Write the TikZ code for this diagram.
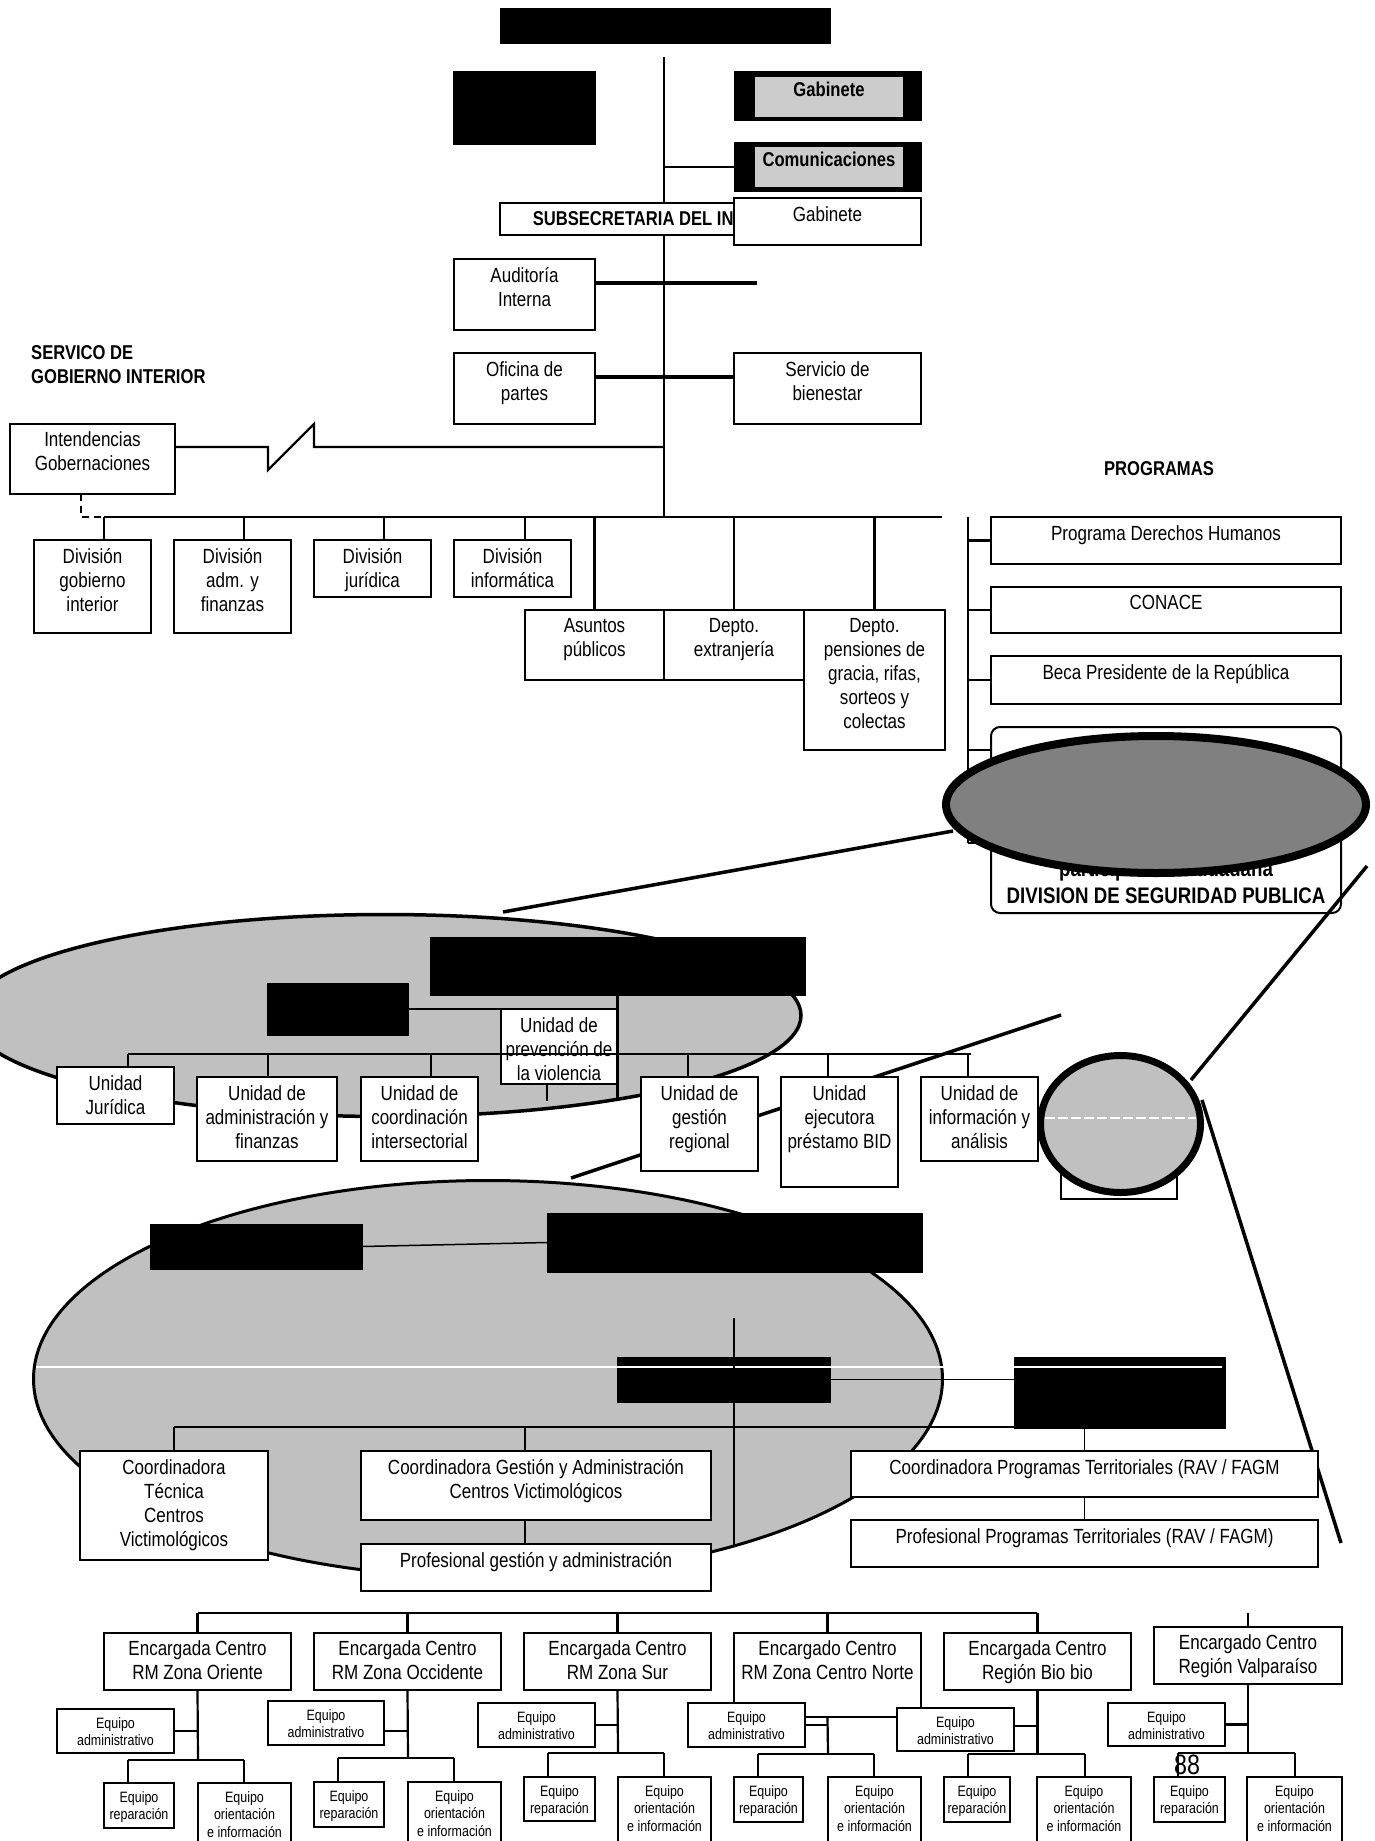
\documentclass[tikz,border=0pt]{standalone}
\usepackage{fontspec}
\setmainfont{Liberation Sans}[FakeStretch=0.83]
\usetikzlibrary{shapes.geometric}
\definecolor{lgray}{HTML}{C0C0C0}
\definecolor{mgray}{HTML}{808080}
\definecolor{pgray}{HTML}{CCCCCC}
\newcommand\fM{\fontsize{20.5}{24}\selectfont}
\newcommand\fS{\fontsize{15}{17.5}\selectfont}
\newcommand\fB{\fontsize{20}{24}\selectfont\bfseries}
\newcommand\fL{\fontsize{22.5}{26}\selectfont\bfseries}
% box with its text hung from the top edge
\newcommand{\orgbox}[8]{%
  \node[#1, anchor=north west, minimum width={(#5-#3)*1pt}, minimum height={(#6-#4)*1pt}] (#7) at (#3,#4) {};
  \node[#2] (#7-t) at (#7.north) {#8};}
% solid black block
\newcommand{\blkbox}[5]{%
  \node[blk, anchor=north west, minimum width={(#3-#1)*1pt}, minimum height={(#4-#2)*1pt}] (#5) at (#1,#2) {};}
\tikzset{
  bx/.style={rectangle, draw=black, line width=2pt, fill=white, inner sep=0pt, outer sep=0pt},
  blk/.style={rectangle, draw=black, fill=black, line width=1pt, inner sep=0pt, outer sep=0pt},
  ln/.style={line width=2.2pt},
  thk/.style={line width=3.2pt},
  thinln/.style={line width=1.5pt},
  zoomln/.style={line width=3.5pt},
  tm/.style={font=\fM, align=center, inner sep=0pt, anchor=north, yshift=-8pt},
  tenc/.style={font=\fM, align=center, inner sep=0pt, anchor=north, yshift=-7pt},
  ts/.style={font=\fS, align=center, inner sep=0pt, anchor=north, yshift=-8pt},
  tbc/.style={font=\fB, inner sep=0pt, anchor=center, yshift=-16pt},
  tbt/.style={font=\fB, inner sep=0pt, anchor=north, yshift=-6pt},
  oval/.style={ellipse, draw=black, inner sep=0pt, outer sep=0pt},
}
\begin{document}
\begin{tikzpicture}[x=1pt,y=-1pt]
\useasboundingbox (0,0) rectangle (1375,1841);
\fill[white] (0,0) rectangle (1375,1841);

%% ---------------- Ministry level ----------------
\coordinate (mainTop) at (664,57);
\coordinate (mainBot) at (664,517);
\draw[ln] (mainTop) -- (mainBot);

\blkbox{500}{9}{830}{44}{ministro}
\blkbox{453}{72}{595}{144}{asesores}

\blkbox{734}{72}{921}{121}{gabOut}
\node[rectangle, draw=black, line width=1pt, fill=pgray, anchor=north west, minimum width=149pt, minimum height=41pt, inner sep=0pt] (gabIn) at (754,76) {};
\node[tbt] (gabIn-t) at (gabIn.north) {Gabinete};

\blkbox{734}{143}{921}{191}{comOut}
\node[rectangle, draw=black, line width=1pt, fill=pgray, anchor=north west, minimum width=149pt, minimum height=41pt, inner sep=0pt] (comIn) at (754,146) {};
\node[tbt] (comIn-t) at (comIn.north) {Comunicaciones};
\draw[ln] (comOut.west) -- (comOut.west -| mainTop);

\orgbox{bx}{tbc}{500}{203}{829}{235}{subse}{SUBSECRETARIA DEL INTERIOR}
\orgbox{bx}{tm}{734}{198}{921}{245}{gabSub}{Gabinete}

\orgbox{bx}{tm}{454}{259}{595}{330}{audit}{Auditoría\\Interna}
\coordinate (auditEnd) at (757,283);
\draw[thk] (audit.east |- auditEnd) -- (auditEnd);

\node[font=\fB, align=left, inner sep=0pt, anchor=north west] (svcGob) at (31,345) {SERVICO DE\\GOBIERNO INTERIOR};

\orgbox{bx}{tm}{454}{353}{595}{424}{oficina}{Oficina de\\partes}
\orgbox{bx}{tm}{734}{353}{921}{424}{bienestar}{Servicio de\\bienestar}
\coordinate (ofY) at (664,377);
\draw[thk] (oficina.east |- ofY) -- (bienestar.west |- ofY);

\orgbox{bx}{tenc}{10}{424}{175}{494}{intend}{Intendencias\\Gobernaciones}
\coordinate (zz1) at (268,447);
\coordinate (zz2) at (268,470);
\coordinate (zz3) at (314,424);
\coordinate (zz4) at (314,447);
\draw[ln] (intend.east |- zz1) -- (zz1) -- (zz2) -- (zz3) -- (zz4) -- (zz4 -| mainTop);

%% ---------------- Divisions ----------------
\coordinate (barL) at (104,517);
\coordinate (barR) at (942,517);
\coordinate (dashTop) at (81,494);
\draw[ln, dash pattern=on 7pt off 5pt] (dashTop) -- (dashTop |- barL) -- (barL);
\draw[ln] (barL) -- (barR);

\coordinate (tk1) at (104,517);
\coordinate (tk2) at (244,517);
\coordinate (tk3) at (384,517);
\coordinate (tk4) at (525,517);
\orgbox{bx}{tm}{34}{540}{151}{633}{divGob}{División\\gobierno\\interior}
\orgbox{bx}{tm}{174}{540}{291}{633}{divAdm}{División\\adm. y\\finanzas}
\orgbox{bx}{tm}{314}{540}{431}{597}{divJur}{División\\jurídica}
\orgbox{bx}{tm}{454}{540}{571}{597}{divInf}{División\\informática}
\draw[ln] (tk1) -- (tk1 |- divGob.north);
\draw[ln] (tk2) -- (tk2 |- divAdm.north);
\draw[ln] (tk3) -- (tk3 |- divJur.north);
\draw[ln] (tk4) -- (tk4 |- divInf.north);

\orgbox{bx}{tm}{525}{610}{664}{680}{asuntos}{Asuntos\\públicos}
\orgbox{bx}{tm}{664}{610}{804}{680}{extranj}{Depto.\\extranjería}
\orgbox{bx}{tm}{804}{610}{945}{750}{pension}{Depto.\\pensiones de\\gracia, rifas,\\sorteos y\\colectas}
\draw[ln] (asuntos.north) -- (asuntos.north |- barL);
\draw[ln] (extranj.north) -- (extranj.north |- barL);
\draw[ln] (pension.north) -- (pension.north |- barL);

%% ---------------- Programas ----------------
\node[font=\fB, inner sep=0pt] (programas) at (1159,469) {PROGRAMAS};
\coordinate (pTop) at (968,517);
\coordinate (pBot) at (968,843);
\draw[ln] (pTop) -- (pBot);
\orgbox{bx}{tm}{991}{517}{1341}{564}{pDH}{Programa Derechos Humanos}
\orgbox{bx}{tm}{991}{587}{1341}{633}{pCon}{CONACE}
\orgbox{bx}{tm}{991}{656}{1341}{704}{pBeca}{Beca Presidente de la República}
\node[bx, rounded corners=9pt, anchor=north west, minimum width=350pt, minimum height=186pt] (pSeg) at (991,727) {};
\node[font=\fL, anchor=base, inner sep=0pt] (pSeg-a) at (1166,876) {participación ciudadana};
\node[font=\fL, anchor=base, inner sep=0pt] (pSeg-b) at (1166,903) {DIVISION DE SEGURIDAD PUBLICA};
\coordinate (pk4) at (968,750);
\draw[ln] (pDH.west) -- (pDH.west -| pTop);
\draw[ln] (pCon.west) -- (pCon.west -| pTop);
\draw[ln] (pBeca.west) -- (pBeca.west -| pTop);
\draw[ln] (pk4) -- (pk4 -| pSeg.west);
\draw[ln] (pBot) -- (pBot -| pSeg.west);

% magnifier lines and the highlight over the security division
\coordinate (zA1) at (953,831);
\coordinate (zA2) at (503,912);
\coordinate (zB1) at (1367,866);
\coordinate (zB2) at (1191,1080);
\draw[zoomln] (zA1) -- (zA2);
\draw[zoomln] (zB1) -- (zB2);
\node[oval, line width=8pt, fill=mgray, minimum width=420pt, minimum height=137pt] (segHi) at (1156,804.5) {};

%% ---------------- Division de Seguridad Publica ----------------
\node[oval, line width=3.5pt, fill=lgray, minimum width=832pt, minimum height=202pt] (segOval) at (385,1015.5) {};

\coordinate (zC1) at (1061,1015);
\coordinate (zC2) at (571,1178);
\draw[zoomln] (zC1) -- (zC2);

\blkbox{430}{937}{805}{995}{jefeDiv}
\blkbox{267}{983}{408}{1035}{asesorDiv}
\coordinate (vDivBot) at (617.5,1100);
\draw[ln] (jefeDiv.south) -- (vDivBot);
\draw[ln] (asesorDiv.east) -- (asesorDiv.east -| vDivBot);
\orgbox{bx}{tm}{501}{1009}{617}{1084}{uPrev}{Unidad de\\prevención de\\la violencia}
\coordinate (prevTk) at (547,1101);
\draw[ln] (prevTk |- uPrev.south) -- (prevTk);

\coordinate (ubL) at (128,1054);
\coordinate (ubR) at (971,1054);
\draw[ln] (ubL) -- (ubR);
\orgbox{bx}{tm}{57}{1067}{174}{1124}{uJur}{Unidad\\Jurídica}
\orgbox{bx}{tm}{197}{1077}{337}{1161}{uAdm}{Unidad de\\administración y\\finanzas}
\orgbox{bx}{tm}{361}{1077}{478}{1161}{uCoo}{Unidad de\\coordinación\\intersectorial}
\orgbox{bx}{tm}{641}{1077}{758}{1171}{uGes}{Unidad de\\gestión\\regional}
\orgbox{bx}{tm}{781}{1077}{898}{1187}{uBid}{Unidad\\ejecutora\\préstamo BID}
\orgbox{bx}{tm}{921}{1077}{1038}{1161}{uInf}{Unidad de\\información y\\análisis}
\coordinate (uk1) at (128,1054);
\coordinate (uk2) at (268,1054);
\coordinate (uk3) at (431,1054);
\coordinate (uk4) at (688,1054);
\coordinate (uk5) at (828,1054);
\coordinate (uk6) at (968,1054);
\draw[ln] (uk1) -- (uk1 |- uJur.north);
\draw[ln] (uk2) -- (uk2 |- uAdm.north);
\draw[ln] (uk3) -- (uk3 |- uCoo.north);
\draw[ln] (uk4) -- (uk4 |- uGes.north);
\draw[ln] (uk5) -- (uk5 |- uBid.north);
\draw[ln] (uk6) -- (uk6 |- uInf.north);

% highlighted unit
\orgbox{bx}{tm}{1061}{1077}{1177}{1199}{uHid}{}
\coordinate (zD1) at (1202,1100);
\coordinate (zD2) at (1341,1543);
\draw[zoomln] (zD1) -- (zD2);
\node[oval, line width=7pt, fill=lgray, minimum width=160pt, minimum height=137pt] (unitHi) at (1120.5,1124) {};
\draw[white, line width=1.2pt, dash pattern=on 10pt off 3pt] (1045,1118) -- (1196,1118);

%% ---------------- Unidad de gestion regional ----------------
\node[oval, line width=3pt, fill=lgray, minimum width=909pt, minimum height=397pt] (gesOval) at (488,1379) {};

\blkbox{150}{1224}{362}{1269}{gesA}
\blkbox{547}{1213}{922}{1272}{gesB}
\draw[thinln] (gesA.east) -- (gesB.west);
\coordinate (gvTop) at (734,1318);
\coordinate (gvBot) at (734,1545);
\blkbox{617}{1357}{830}{1402}{gesC}
\blkbox{1014}{1357}{1225}{1428}{gesD}
\draw[thinln] (gesC.east) -- (gesC.east -| gesD.west);
\draw[white, line width=1.2pt] (36,1367) -- (1222,1367);
\draw[thinln] (gvTop) -- (gvBot);

\coordinate (gbL) at (174,1427);
\coordinate (gbR) at (1014,1427);
\draw[thinln] (gbL) -- (gbR);
\orgbox{bx}{tm}{80}{1451}{268}{1560}{coTec}{Coordinadora\\Técnica\\Centros\\Victimológicos}
\orgbox{bx}{tm}{361}{1451}{711}{1520}{coGes}{Coordinadora Gestión y Administración\\Centros Victimológicos}
\orgbox{bx}{tm}{361}{1544}{711}{1591}{prGes}{Profesional gestión y administración}
\coordinate (gk2) at (525,1427);
\draw[thinln] (gbL) -- (coTec.north);
\draw[thinln] (gk2) -- (gk2 |- coGes.north);
\draw[thinln] (gk2 |- coGes.south) -- (gk2 |- prGes.north);

\orgbox{bx}{tm}{851}{1451}{1318}{1497}{coPro}{Coordinadora Programas Territoriales (RAV / FAGM}
\orgbox{bx}{tm}{851}{1520}{1318}{1567}{prPro}{Profesional Programas Territoriales (RAV / FAGM)}
\draw[thinln] (coPro.north) -- (coPro.north |- gesD.south);
\draw[thinln] (coPro.south) -- (prPro.north);

%% ---------------- Centros ----------------
\coordinate (cbL) at (198,1613);
\coordinate (cbR) at (1037,1613);
\draw[ln] (cbL) -- (cbR);

% RM Zona Oriente
\orgbox{bx}{tenc}{104}{1633}{291}{1690}{enc1}{Encargada Centro\\RM Zona Oriente}
\coordinate (j1) at (198,1760);
\draw[ln] (enc1.north) -- (enc1.north |- cbL);
\draw[ln] (enc1.south) -- (j1);
\orgbox{bx}{ts}{57}{1709}{174}{1753}{adm1}{Equipo\\administrativo}
\draw[ln] (adm1.east) -- (adm1.east -| j1);
\coordinate (s1a) at (128,1760);
\coordinate (s1b) at (244,1760);
\draw[ln] (s1a) -- (s1b);
\orgbox{bx}{ts}{104}{1783}{174}{1828}{rep1}{Equipo\\reparación}
\orgbox{bx}{ts}{198}{1783}{291}{1860}{ori1}{Equipo\\orientación\\e información}
\draw[ln] (s1a) -- (s1a |- rep1.north);
\draw[ln] (s1b) -- (s1b |- ori1.north);

% RM Zona Occidente
\orgbox{bx}{tenc}{314}{1633}{501}{1690}{enc2}{Encargada Centro\\RM Zona Occidente}
\coordinate (j2) at (408,1758);
\coordinate (c2) at (408,1731);
\draw[ln] (enc2.north) -- (enc2.north |- cbL);
\draw[ln] (enc2.south) -- (j2);
\orgbox{bx}{ts}{268}{1701}{384}{1745}{adm2}{Equipo\\administrativo}
\draw[ln] (adm2.east |- c2) -- (c2);
\coordinate (s2a) at (338,1758);
\coordinate (s2b) at (454,1758);
\draw[ln] (s2a) -- (s2b);
\orgbox{bx}{ts}{314}{1782}{384}{1827}{rep2}{Equipo\\reparación}
\orgbox{bx}{ts}{408}{1782}{501}{1860}{ori2}{Equipo\\orientación\\e información}
\draw[ln] (s2a) -- (s2a |- rep2.north);
\draw[ln] (s2b) -- (s2b |- ori2.north);

% RM Zona Sur
\orgbox{bx}{tenc}{524}{1633}{711}{1690}{enc3}{Encargada Centro\\RM Zona Sur}
\coordinate (j3) at (618,1753);
\draw[ln] (enc3.north) -- (enc3.north |- cbL);
\draw[ln] (enc3.south) -- (j3);
\orgbox{bx}{ts}{478}{1703}{595}{1747}{adm3}{Equipo\\administrativo}
\draw[ln] (adm3.east) -- (adm3.east -| j3);
\coordinate (s3a) at (548,1753);
\coordinate (s3b) at (664,1753);
\draw[ln] (s3a) -- (s3b);
\orgbox{bx}{ts}{524}{1777}{595}{1821}{rep3}{Equipo\\reparación}
\orgbox{bx}{ts}{618}{1777}{711}{1860}{ori3}{Equipo\\orientación\\e información}
\draw[ln] (s3a) -- (s3a |- rep3.north);
\draw[ln] (s3b) -- (s3b |- ori3.north);

% RM Zona Centro Norte
\orgbox{bx}{tenc}{734}{1633}{921}{1717}{enc4}{Encargado Centro\\RM Zona Centro Norte}
\coordinate (j4) at (828,1754);
\draw[ln] (enc4.north) -- (enc4.north |- cbL);
\draw[ln] (enc4.south) -- (j4);
\orgbox{bx}{ts}{688}{1703}{805}{1747}{adm4}{Equipo\\administrativo}
\draw[ln] (adm4.east) -- (adm4.east -| j4);
\coordinate (s4a) at (758,1754);
\coordinate (s4b) at (874,1754);
\draw[ln] (s4a) -- (s4b);
\orgbox{bx}{ts}{734}{1777}{803}{1822}{rep4}{Equipo\\reparación}
\orgbox{bx}{ts}{828}{1777}{921}{1860}{ori4}{Equipo\\orientación\\e información}
\draw[ln] (s4a) -- (s4a |- rep4.north);
\draw[ln] (s4b) -- (s4b |- ori4.north);

% Region Bio bio
\orgbox{bx}{tenc}{944}{1633}{1131}{1690}{enc5}{Encargada Centro\\Región Bio bio}
\coordinate (j5) at (1037.5,1754);
\coordinate (c5) at (1037.5,1726);
\draw[ln] (enc5.north) -- (enc5.north |- cbL);
\draw[ln] (enc5.south) -- (j5);
\orgbox{bx}{ts}{897}{1708}{1014}{1751}{adm5}{Equipo\\administrativo}
\draw[ln] (adm5.east |- c5) -- (c5);
\coordinate (s5a) at (968,1754);
\coordinate (s5b) at (1085,1754);
\draw[ln] (s5a) -- (s5b);
\orgbox{bx}{ts}{944}{1777}{1010}{1822}{rep5}{Equipo\\reparación}
\orgbox{bx}{ts}{1037}{1777}{1131}{1860}{ori5}{Equipo\\orientación\\e información}
\draw[ln] (s5a) -- (s5a |- rep5.north);
\draw[ln] (s5b) -- (s5b |- ori5.north);

% Region Valparaiso
\orgbox{bx}{tenc}{1154}{1627}{1342}{1684}{enc6}{Encargado Centro\\Región Valparaíso}
\coordinate (top6) at (1248,1613);
\coordinate (j6) at (1248,1753);
\draw[ln] (enc6.north) -- (top6);
\draw[ln] (enc6.south) -- (j6);
\orgbox{bx}{ts}{1108}{1703}{1225}{1746}{adm6}{Equipo\\administrativo}
\draw[ln] (adm6.east) -- (adm6.east -| j6);
\coordinate (s6a) at (1178,1753);
\coordinate (s6b) at (1295,1753);
\draw[ln] (s6a) -- (s6b);
\orgbox{bx}{ts}{1154}{1777}{1225}{1822}{rep6}{Equipo\\reparación}
\orgbox{bx}{ts}{1247}{1777}{1342}{1860}{ori6}{Equipo\\orientación\\e información}
\draw[ln] (s6a) -- (s6a |- rep6.north);
\draw[ln] (s6b) -- (s6b |- ori6.north);

\node[font=\fontsize{28}{30}\selectfont, inner sep=0pt] (pagenum) at (1187,1765) {88};
\end{tikzpicture}
\end{document}
